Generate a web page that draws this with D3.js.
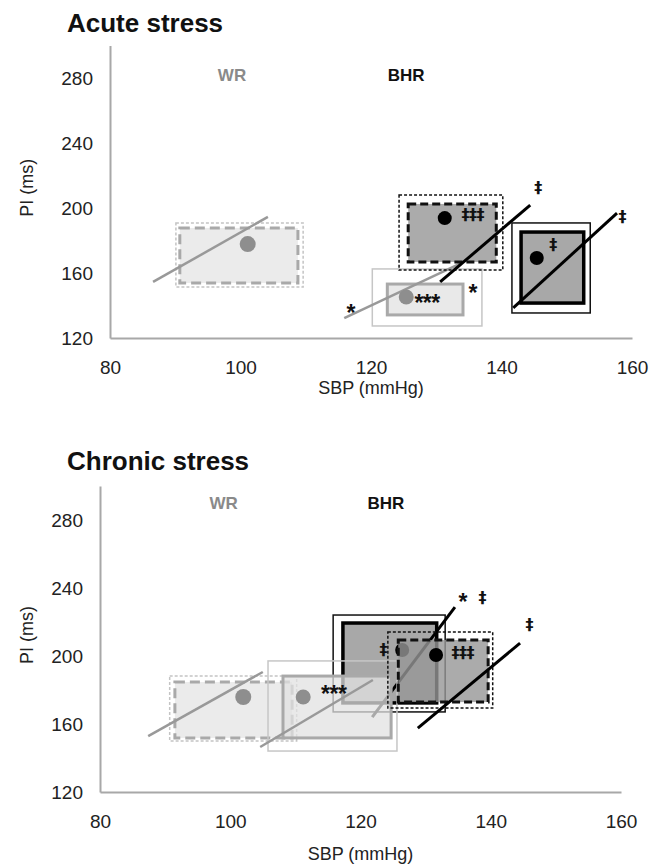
<!DOCTYPE html>
<html>
<head>
<meta charset="utf-8">
<script src="https://cdn.jsdelivr.net/npm/d3@7"></script>
<style>
  body { margin: 0; background: #fff; }
  svg { display: block; font-family: "Liberation Sans", Arial, Helvetica, sans-serif; }
</style>
</head>
<body>
<svg id="chart" width="660" height="868"></svg>
<script>
// ---- shared axis values ----
const sbpTicks = [80, 100, 120, 140, 160];
const piTicks = [120, 160, 200, 240, 280];
const sbpDomain = [80, 160];
const piDomain = [120, 300];

// ---- Acute stress (drawn in this order) ----
const acuteGroups = ["WR baseline", "WR stress", "BHR baseline", "BHR stress"];
const acuteSBP = [101.1, 125.4, 131.3, 145.4];
const acutePI = [177.8, 145.2, 193.8, 169.2];
const acuteInnerSBP = [[90.7, 108.8], [122.5, 134.1], [125.7, 139.2], [143.0, 152.6]];
const acuteInnerPI = [[153.8, 187.7], [134.2, 153.2], [166.8, 202.5], [141.5, 185.2]];
const acuteOuterSBP = [[90.1, 109.6], [120.2, 137.0], [124.3, 140.2], [141.6, 153.6]];
const acuteOuterPI = [[151.4, 190.8], [127.4, 162.5], [161.8, 208.0], [135.4, 190.8]];
const acuteFitSBP = [[86.6, 104.2], [115.9, 133.9], [130.6, 144.4], [141.8, 157.7]];
const acuteFitPI = [[154.5, 194.5], [132.3, 166.2], [154.5, 201.8], [138.5, 196.9]];
const acuteNotes = ["***", "*", "*", "‡‡‡", "‡", "‡", "‡"];
const acuteNoteSBP = [128.6, 116.9, 135.6, 135.6, 145.6, 147.9, 158.5];
const acuteNotePI = [145.2, 139.1, 151.4, 195.7, 212.6, 177.2, 194.5];
const acuteLabels = ["WR", "BHR"];
const acuteLabelSBP = [98.7, 125.4];
const acuteLabelPI = [281.8, 281.8];

// ---- Chronic stress (drawn in this order) ----
const chronicGroups = ["BHR stress", "WR baseline", "WR stress", "BHR baseline"];
const chronicSBP = [126.4, 102.0, 111.2, 131.6];
const chronicPI = [203.5, 175.9, 175.9, 200.6];
const chronicInnerSBP = [[117.3, 131.7], [91.5, 109.5], [108.1, 124.7], [125.8, 139.6]];
const chronicInnerPI = [[172.4, 219.4], [151.8, 184.7], [151.8, 188.2], [172.9, 209.4]];
const chronicOuterSBP = [[115.8, 133.0], [90.7, 110.2], [105.8, 125.6], [124.2, 140.3]];
const chronicOuterPI = [[167.1, 224.1], [150.0, 188.2], [144.1, 197.1], [169.4, 214.1]];
const chronicFitSBP = [[121.8, 134.5], [87.4, 105.0], [104.6, 121.9], [128.8, 144.5]];
const chronicFitPI = [[164.1, 228.8], [152.9, 190.6], [146.5, 185.9], [157.6, 207.6]];
const chronicNotes = ["***", "‡", "*", "‡", "‡‡‡", "‡"];
const chronicNoteSBP = [115.9, 123.5, 135.7, 138.7, 135.7, 145.9];
const chronicNotePI = [181.2, 203.5, 235.3, 234.1, 201.8, 218.2];
const chronicLabels = ["WR", "BHR"];
const chronicLabelSBP = [99.0, 123.9];
const chronicLabelPI = [290.0, 290.0];

// ---- visual styles per group ----
const groupStyle = {
  "WR baseline":  { outer: "#c4c4c4", outerDash: "3,2", outerW: 1.5, inner: "#a9a9a9", innerDash: "10,5", innerW: 3,
                    fill: "#e6e6e6", fillOp: 0.8, line: "#999", lineW: 2.5, dot: "#8e8e8e", r: 8 },
  "WR stress":    { outer: "#c6c6c6", outerDash: null, outerW: 1.5, inner: "#a9a9a9", innerDash: null, innerW: 3,
                    fill: "#e2e2e2", fillOp: 0.75, line: "#999", lineW: 2.5, dot: "#8e8e8e", r: 7.5 },
  "BHR baseline": { outer: "#111", outerDash: "3,2", outerW: 1.5, inner: "#111", innerDash: "8,4", innerW: 3,
                    fill: "#969696", fillOp: 0.8, line: "#000", lineW: 3, dot: "#000", r: 7 },
  "BHR stress":   { outer: "#111", outerDash: null, outerW: 1.5, inner: "#000", innerDash: null, innerW: 3.5,
                    fill: "#a8a8a8", fillOp: 1, line: "#000", lineW: 3, dot: "#000", r: 7 }
};

const svg = d3.select("#chart");

function drawPanel(p) {
  const x = d3.scaleLinear().domain(sbpDomain).range([p.left, p.right]);
  const y = d3.scaleLinear().domain(piDomain).range([p.bottom, p.top]);
  const g = svg.append("g");

  // title
  g.append("text").attr("x", p.titleX).attr("y", p.titleY)
    .attr("font-size", 26).attr("font-weight", "bold").attr("fill", "#111")
    .text(p.title);

  // axes
  const yAxis = d3.axisLeft(y).tickValues(piTicks).tickSize(0).tickPadding(17);
  const xAxis = d3.axisBottom(x).tickValues(sbpTicks).tickSize(0).tickPadding(23);
  const ya = g.append("g").attr("transform", `translate(${p.left},0)`).call(yAxis);
  const xa = g.append("g").attr("transform", `translate(0,${p.bottom})`).call(xAxis);
  [ya, xa].forEach(a => {
    a.select(".domain").attr("stroke", "#a8a8a8").attr("stroke-width", 2);
    a.selectAll("text").attr("font-size", 19).attr("fill", "#222")
      .attr("font-family", "\"Liberation Sans\", Arial, sans-serif");
  });

  // axis titles
  g.append("text").attr("x", (p.left + p.right) / 2).attr("y", p.xLabelY)
    .attr("text-anchor", "middle").attr("font-size", 18).attr("fill", "#222")
    .text("SBP (mmHg)");
  g.append("text")
    .attr("transform", `translate(${p.yLabelX},${(p.top + p.bottom) / 2 - 4}) rotate(-90)`)
    .attr("text-anchor", "middle").attr("font-size", 18).attr("fill", "#222")
    .text("PI (ms)");

  // strain labels
  p.labels.forEach((t, i) => {
    g.append("text").attr("x", x(p.labelSBP[i])).attr("y", y(p.labelPI[i]))
      .attr("dy", "0.36em").attr("text-anchor", "middle")
      .attr("font-size", 17).attr("font-weight", "bold")
      .attr("fill", t === "WR" ? "#8a8a8a" : "#111")
      .text(t);
  });

  // groups: outer box, inner box, regression line, mean point
  p.groups.forEach((name, i) => {
    const s = groupStyle[name];
    const gg = g.append("g");
    const ox = p.outerSBP[i], oy = p.outerPI[i];
    const ix = p.innerSBP[i], iy = p.innerPI[i];
    gg.append("rect")
      .attr("x", x(ox[0])).attr("y", y(oy[1]))
      .attr("width", x(ox[1]) - x(ox[0])).attr("height", y(oy[0]) - y(oy[1]))
      .attr("fill", "none").attr("stroke", s.outer).attr("stroke-width", s.outerW)
      .attr("stroke-dasharray", s.outerDash);
    gg.append("rect")
      .attr("x", x(ix[0])).attr("y", y(iy[1]))
      .attr("width", x(ix[1]) - x(ix[0])).attr("height", y(iy[0]) - y(iy[1]))
      .attr("fill", s.fill).attr("fill-opacity", s.fillOp)
      .attr("stroke", s.inner).attr("stroke-width", s.innerW)
      .attr("stroke-dasharray", s.innerDash);
    const fx = p.fitSBP[i], fy = p.fitPI[i];
    gg.append("line")
      .attr("x1", x(fx[0])).attr("y1", y(fy[0]))
      .attr("x2", x(fx[1])).attr("y2", y(fy[1]))
      .attr("stroke", s.line).attr("stroke-width", s.lineW);
    gg.append("circle")
      .attr("cx", x(p.sbp[i])).attr("cy", y(p.pi[i])).attr("r", s.r)
      .attr("fill", s.dot);
  });

  // significance marks
  p.notes.forEach((t, i) => {
    const star = t.includes("*");
    g.append("text").attr("x", x(p.noteSBP[i])).attr("y", y(p.notePI[i]))
      .attr("dy", star ? "0.6em" : "0.33em")
      .attr("text-anchor", "middle")
      .attr("font-family", star ? "\"Liberation Sans\", Arial, sans-serif" : "\"DejaVu Sans\", sans-serif")
      .attr("font-size", star ? 23 : 16).attr("font-weight", "bold")
      .attr("letter-spacing", -0.5)
      .attr("fill", "#111")
      .text(t);
  });
}

drawPanel({
  title: "Acute stress", titleX: 67, titleY: 32,
  left: 110, right: 632, top: 45.5, bottom: 338,
  xLabelY: 394, yLabelX: 33,
  groups: acuteGroups, sbp: acuteSBP, pi: acutePI,
  innerSBP: acuteInnerSBP, innerPI: acuteInnerPI,
  outerSBP: acuteOuterSBP, outerPI: acuteOuterPI,
  fitSBP: acuteFitSBP, fitPI: acuteFitPI,
  notes: acuteNotes, noteSBP: acuteNoteSBP, notePI: acuteNotePI,
  labels: acuteLabels, labelSBP: acuteLabelSBP, labelPI: acuteLabelPI
});

drawPanel({
  title: "Chronic stress", titleX: 67, titleY: 470,
  left: 100, right: 621, top: 486, bottom: 792,
  xLabelY: 860, yLabelX: 33,
  groups: chronicGroups, sbp: chronicSBP, pi: chronicPI,
  innerSBP: chronicInnerSBP, innerPI: chronicInnerPI,
  outerSBP: chronicOuterSBP, outerPI: chronicOuterPI,
  fitSBP: chronicFitSBP, fitPI: chronicFitPI,
  notes: chronicNotes, noteSBP: chronicNoteSBP, notePI: chronicNotePI,
  labels: chronicLabels, labelSBP: chronicLabelSBP, labelPI: chronicLabelPI
});
</script>
</body>
</html>
